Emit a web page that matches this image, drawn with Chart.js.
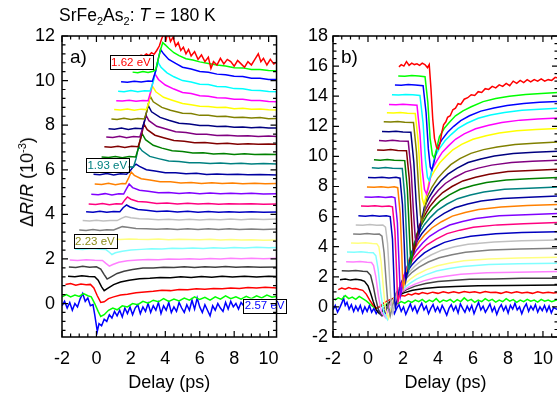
<!DOCTYPE html>
<html>
<head>
<meta charset="utf-8">
<script src="https://cdn.jsdelivr.net/npm/chart.js@4.4.1/dist/chart.umd.min.js"></script>
<style>
  html, body { margin: 0; padding: 0; background: #fff; overflow: hidden; }
  #wrap { position: relative; width: 557px; height: 397px; overflow: hidden; }
  #wrap canvas { position: absolute; top: 0; }
  #cA { left: 0; }
  #cB { left: 290px; }
  .txt { position: absolute; font-family: 'Liberation Sans', Arial, sans-serif; color: #000; white-space: nowrap; line-height: 1; z-index: 5; }
  #title { left: 59px; top: 7px; font-size: 17.5px; }
  #title sub { font-size: 11px; vertical-align: -4px; line-height: 0; }
  #ytitle { left: 27px; top: 182px; font-size: 18px; transform: translate(-50%, -50%) rotate(-90deg); }
  #ytitle sup { font-size: 11px; vertical-align: 7px; line-height: 0; }
</style>
</head>
<body>
<div id="wrap">
  <canvas id="cA" width="290" height="397"></canvas>
  <canvas id="cB" width="275" height="397"></canvas>
  <div class="txt" id="title">SrFe<sub>2</sub>As<sub>2</sub>: <i>T</i> = 180 K</div>
  <div class="txt" id="ytitle">&Delta;<i>R</i>/<i>R</i> (10<sup>-3</sup>)</div>
</div>
<script>
// tick labels
const xTickValues = [-2, 0, 2, 4, 6, 8, 10];
const aYTickValues = [0, 2, 4, 6, 8, 10, 12];
const bYTickValues = [-2, 0, 2, 4, 6, 8, 10, 12, 14, 16, 18];

// one colour per probe energy, top trace (1.62 eV) first
const curveColors = ['#FF0000', '#00FF00', '#0000FF', '#00FFFF', '#FF00FF', '#FFFF00', '#808000', '#000080',
  '#800080', '#800000', '#008000', '#008080', '#0000A0', '#FF8000', '#8000FF', '#FF0080', '#0000C0',
  '#C0C0C0', '#808080', '#FFFF80', '#80FFFF', '#FF80FF', '#404040', '#000000', '#FF0000', '#00FF00', '#0000FF'];

const energyLabels = ['1.62 eV', '1.93 eV', '2.23 eV', '2.57 eV'];
const energyLabelColors = ['#FF0000', '#008080', '#8C8C1A', '#0000FF'];

// ---- panel a) traces [delay ps, dR/R 1e-3] ----
const a01 = [[2.55,11.15],[2.75,11.1],[2.9,11.2],[3.05,11.12],[3.2,11.25],[3.35,11.18],[3.5,11.35],[3.65,11.55],[3.8,11.9],[3.95,12.15],[4.05,11.85],[4.15,12.2],[4.3,11.75],[4.45,11.95],[4.6,11.55],[4.75,11.7],[4.9,11.35],[5.05,11.5],[5.2,11.2],[5.35,11.4],[5.5,11.1],[5.7,11.3],[5.9,10.95],[6.1,11.15],[6.3,10.85],[6.5,11.05],[6.65,10.55],[6.8,10.85],[7.0,10.7],[7.2,11.0],[7.4,10.75],[7.6,10.95],[7.8,10.85],[8.0,10.65],[8.2,10.9],[8.4,10.75],[8.6,10.6],[8.8,10.85],[9.0,10.7],[9.2,10.95],[9.4,11.2],[9.55,10.85],[9.7,11.0],[9.9,10.7],[10.1,10.95],[10.3,10.75],[10.5,10.85]];
const a02 = [[2.1,10.38],[2.4,10.35],[2.7,10.41],[3.0,10.36],[3.3,10.42],[3.45,10.5],[3.6,11.0],[3.75,11.45],[3.85,11.7],[4.0,11.6],[4.2,11.45],[4.5,11.25],[4.8,11.12],[5.2,10.98],[5.6,10.92],[6.0,10.84],[6.5,10.77],[7.0,10.7],[7.5,10.65],[8.0,10.58],[8.5,10.57],[9.0,10.5],[9.5,10.5],[10.0,10.45],[10.5,10.44]];
const a03 = [[1.43,9.95],[1.8,9.93],[2.2,9.97],[2.6,9.94],[3.0,9.98],[3.25,9.97],[3.45,10.45],[3.6,11.0],[3.72,11.4],[3.9,11.2],[4.2,10.95],[4.6,10.77],[5.0,10.6],[5.5,10.52],[6.0,10.41],[6.5,10.37],[7.0,10.29],[7.5,10.26],[8.0,10.19],[8.5,10.18],[9.0,10.11],[9.5,10.11],[10.0,10.05],[10.5,10.05]];
const a04 = [[1.26,9.52],[1.6,9.5],[2.0,9.55],[2.4,9.5],[2.8,9.54],[3.12,9.53],[3.3,9.95],[3.45,10.5],[3.55,10.85],[3.75,10.6],[4.1,10.35],[4.5,10.17],[5.0,10.0],[5.5,9.94],[6.0,9.84],[6.5,9.82],[7.0,9.74],[7.5,9.72],[8.0,9.64],[8.5,9.63],[9.0,9.57],[9.5,9.56],[10.0,9.51],[10.5,9.5]];
const a05 = [[1.15,9.1],[1.5,9.08],[1.9,9.12],[2.3,9.07],[2.7,9.11],[3.0,9.1],[3.15,9.5],[3.3,10.0],[3.4,10.3],[3.6,10.05],[4.0,9.8],[4.5,9.62],[5.0,9.47],[5.5,9.42],[6.0,9.32],[6.5,9.3],[7.0,9.23],[7.5,9.22],[8.0,9.16],[8.5,9.16],[9.0,9.11],[9.5,9.11],[10.0,9.06],[10.5,9.05]];
const a06 = [[1.03,8.7],[1.4,8.68],[1.8,8.73],[2.2,8.67],[2.6,8.72],[2.9,8.7],[3.05,9.05],[3.15,9.45],[3.25,9.75],[3.45,9.5],[3.9,9.25],[4.4,9.12],[5.0,8.97],[5.5,8.92],[6.0,8.85],[6.5,8.84],[7.0,8.79],[7.5,8.8],[8.0,8.74],[8.5,8.76],[9.0,8.71],[9.5,8.73],[10.0,8.69],[10.5,8.68]];
const a07 = [[0.87,8.28],[1.2,8.26],[1.6,8.31],[2.0,8.25],[2.4,8.3],[2.78,8.28],[2.92,8.6],[3.02,8.95],[3.12,9.3],[3.3,9.05],[3.8,8.8],[4.3,8.67],[5.0,8.54],[5.5,8.52],[6.0,8.44],[6.5,8.44],[7.0,8.39],[7.5,8.4],[8.0,8.35],[8.5,8.36],[9.0,8.32],[9.5,8.34],[10.0,8.29],[10.5,8.3]];
const a08 = [[0.7,7.84],[1.05,7.82],[1.45,7.87],[1.85,7.81],[2.25,7.86],[2.65,7.84],[2.8,8.2],[2.9,8.55],[3.0,8.9],[3.2,8.6],[3.7,8.35],[4.2,8.22],[4.8,8.09],[5.4,8.05],[6.0,7.99],[6.5,7.99],[7.0,7.94],[7.5,7.95],[8.0,7.91],[8.5,7.92],[9.0,7.89],[9.5,7.91],[10.0,7.87],[10.5,7.87]];
const a09 = [[0.57,7.47],[0.95,7.45],[1.35,7.5],[1.75,7.44],[2.15,7.49],[2.52,7.47],[2.68,7.85],[2.78,8.15],[2.87,8.45],[3.05,8.2],[3.5,7.95],[4.0,7.84],[4.6,7.71],[5.2,7.67],[5.8,7.59],[6.4,7.59],[7.0,7.54],[7.6,7.55],[8.2,7.51],[8.8,7.53],[9.4,7.49],[10.0,7.51],[10.5,7.49]];
const a10 = [[0.46,7.03],[0.85,7.01],[1.25,7.06],[1.65,7.0],[2.05,7.05],[2.42,7.03],[2.57,7.4],[2.67,7.75],[2.76,8.05],[2.95,7.8],[3.4,7.55],[3.9,7.44],[4.5,7.31],[5.1,7.28],[5.7,7.21],[6.3,7.22],[7.0,7.17],[7.6,7.19],[8.2,7.15],[8.8,7.17],[9.4,7.14],[10.0,7.16],[10.5,7.14]];
const a11 = [[0.3,6.57],[0.7,6.55],[1.1,6.6],[1.5,6.54],[1.9,6.59],[2.28,6.57],[2.43,6.95],[2.53,7.3],[2.63,7.65],[2.85,7.35],[3.3,7.1],[3.8,6.97],[4.4,6.85],[5.0,6.82],[5.6,6.75],[6.2,6.76],[6.8,6.71],[7.4,6.73],[8.0,6.69],[8.6,6.72],[9.2,6.68],[9.8,6.7],[10.5,6.68]];
const a12 = [[0.2,6.12],[0.6,6.1],[1.0,6.15],[1.4,6.09],[1.8,6.14],[2.15,6.12],[2.3,6.5],[2.38,6.8],[2.46,7.05],[2.65,6.85],[3.1,6.6],[3.6,6.5],[4.2,6.39],[4.8,6.37],[5.4,6.31],[6.0,6.32],[6.6,6.28],[7.2,6.3],[7.8,6.27],[8.4,6.29],[9.0,6.26],[9.7,6.28],[10.5,6.26]];
const a13 = [[-0.17,5.8],[0.2,5.78],[0.6,5.83],[1.0,5.77],[1.4,5.82],[1.75,5.8],[1.95,5.95],[2.15,6.15],[2.3,6.25],[2.5,6.15],[2.9,6.0],[3.4,5.94],[4.0,5.87],[4.6,5.87],[5.2,5.82],[5.8,5.84],[6.4,5.79],[7.0,5.81],[7.6,5.79],[8.2,5.8],[8.8,5.78],[9.5,5.79],[10.5,5.77]];
const a14 = [[-0.1,5.36],[0.3,5.34],[0.7,5.39],[1.1,5.33],[1.5,5.38],[1.7,5.37],[1.85,5.6],[2.02,5.9],[2.2,5.75],[2.6,5.6],[3.1,5.54],[3.7,5.46],[4.3,5.46],[4.9,5.41],[5.5,5.43],[6.1,5.39],[6.7,5.42],[7.3,5.38],[7.9,5.41],[8.5,5.37],[9.2,5.4],[9.8,5.37],[10.5,5.38]];
const a15 = [[-0.3,4.9],[0.1,4.88],[0.5,4.93],[0.9,4.87],[1.3,4.92],[1.58,4.91],[1.75,5.15],[1.9,5.36],[2.1,5.2],[2.5,5.08],[3.0,5.04],[3.6,4.97],[4.2,4.98],[4.8,4.94],[5.4,4.97],[6.0,4.93],[6.6,4.96],[7.2,4.92],[7.8,4.95],[8.4,4.92],[9.0,4.95],[9.7,4.91],[10.5,4.93]];
const a16 = [[-0.45,4.46],[-0.05,4.44],[0.35,4.49],[0.75,4.43],[1.15,4.48],[1.48,4.47],[1.65,4.65],[1.8,4.78],[2.0,4.68],[2.4,4.58],[2.9,4.55],[3.5,4.49],[4.1,4.51],[4.7,4.47],[5.3,4.5],[5.9,4.46],[6.5,4.49],[7.1,4.45],[7.7,4.48],[8.3,4.46],[9.0,4.48],[9.7,4.45],[10.5,4.47]];
const a17 = [[-0.6,4.12],[-0.2,4.1],[0.2,4.14],[0.6,4.09],[1.0,4.13],[1.36,4.12],[1.55,4.3],[1.75,4.42],[1.95,4.33],[2.4,4.22],[2.9,4.19],[3.5,4.13],[4.1,4.15],[4.7,4.11],[5.3,4.14],[5.9,4.1],[6.5,4.13],[7.1,4.1],[7.7,4.12],[8.3,4.09],[9.0,4.12],[9.7,4.09],[10.5,4.11]];
const a18 = [[-0.8,3.72],[-0.4,3.7],[0.0,3.74],[0.4,3.7],[0.8,3.73],[1.2,3.72],[1.45,3.82],[1.7,3.9],[2.0,3.85],[2.5,3.8],[3.0,3.79],[3.6,3.76],[4.2,3.78],[4.8,3.75],[5.4,3.78],[6.0,3.75],[6.6,3.78],[7.2,3.76],[7.8,3.79],[8.4,3.76],[9.0,3.79],[9.7,3.77],[10.5,3.79]];
const a19 = [[-1.0,3.3],[-0.6,3.28],[-0.2,3.32],[0.2,3.28],[0.6,3.31],[1.0,3.3],[1.25,3.38],[1.5,3.45],[1.8,3.42],[2.3,3.37],[2.9,3.36],[3.5,3.33],[4.1,3.35],[4.7,3.32],[5.3,3.35],[5.9,3.32],[6.5,3.35],[7.1,3.32],[7.7,3.35],[8.3,3.32],[9.0,3.34],[9.7,3.32],[10.5,3.34]];
const a20 = [[-1.1,2.88],[-0.6,2.86],[-0.1,2.9],[0.4,2.86],[0.9,2.89],[1.4,2.87],[1.9,2.9],[2.4,2.88],[3.0,2.87],[3.6,2.89],[4.2,2.86],[4.8,2.88],[5.4,2.87],[6.0,2.86],[6.6,2.88],[7.2,2.85],[7.8,2.87],[8.4,2.85],[9.0,2.86],[9.7,2.84],[10.5,2.85]];
const a21 = [[-1.25,2.45],[-0.8,2.43],[-0.3,2.47],[0.2,2.44],[0.55,2.42],[0.75,2.3],[0.9,2.2],[1.1,2.28],[1.5,2.35],[2.0,2.4],[2.6,2.43],[3.2,2.46],[3.8,2.45],[4.4,2.48],[5.0,2.47],[5.6,2.49],[6.2,2.47],[6.8,2.5],[7.4,2.48],[8.0,2.51],[8.6,2.49],[9.3,2.52],[10.0,2.5],[10.5,2.52]];
const a22 = [[-1.55,1.95],[-1.1,1.93],[-0.6,1.97],[-0.1,1.94],[0.35,1.93],[0.55,1.8],[0.75,1.68],[0.95,1.75],[1.3,1.85],[1.8,1.92],[2.4,1.95],[3.0,1.98],[3.6,1.97],[4.2,2.0],[4.8,1.99],[5.4,2.01],[6.0,1.99],[6.6,2.02],[7.2,2.0],[7.8,2.03],[8.4,2.01],[9.0,2.03],[9.7,2.01],[10.5,2.03]];
const a23 = [[-1.6,1.64],[-1.2,1.62],[-0.8,1.67],[-0.4,1.63],[0.0,1.65],[0.25,1.55],[0.45,1.3],[0.62,1.1],[0.85,1.2],[1.2,1.35],[1.6,1.45],[2.1,1.53],[2.7,1.59],[3.3,1.6],[3.9,1.63],[4.5,1.62],[5.1,1.65],[5.7,1.62],[6.3,1.65],[6.9,1.63],[7.5,1.66],[8.1,1.63],[8.8,1.65],[9.5,1.63],[10.5,1.64]];
const a24 = [[-1.65,1.22],[-1.25,1.2],[-0.85,1.25],[-0.45,1.21],[-0.1,1.2],[0.1,1.05],[0.3,0.75],[0.45,0.58],[0.65,0.68],[1.0,0.85],[1.4,0.97],[1.9,1.05],[2.5,1.11],[3.1,1.13],[3.7,1.17],[4.3,1.16],[4.9,1.2],[5.5,1.17],[6.1,1.21],[6.7,1.18],[7.3,1.22],[7.9,1.19],[8.6,1.22],[9.3,1.19],[10.0,1.23],[10.5,1.21]];
const a25 = [[-1.8,0.85],[-1.5,0.9],[-1.2,0.82],[-0.9,0.88],[-0.6,0.84],[-0.35,0.86],[-0.15,0.7],[0.05,0.35],[0.25,0.05],[0.45,0.08],[0.7,0.22],[1.0,0.3],[1.4,0.38],[1.8,0.42],[2.3,0.48],[2.8,0.52],[3.3,0.55],[3.8,0.6],[4.3,0.58],[4.8,0.63],[5.3,0.62],[5.8,0.66],[6.3,0.64],[6.8,0.68],[7.3,0.66],[7.8,0.7],[8.3,0.68],[8.8,0.72],[9.3,0.7],[9.8,0.73],[10.5,0.7]];
const a26 = [[-2.0,0.3],[-1.75,0.4],[-1.5,0.3],[-1.25,0.38],[-1.0,0.32],[-0.75,0.45],[-0.5,0.35],[-0.3,0.3],[-0.1,0.0],[0.1,-0.35],[0.25,-0.58],[0.45,-0.5],[0.7,-0.3],[0.95,-0.2],[1.2,-0.28],[1.5,-0.1],[1.8,-0.15],[2.1,0.0],[2.4,-0.05],[2.7,0.1],[3.0,0.02],[3.3,0.15],[3.6,0.08],[3.9,0.22],[4.2,0.1],[4.5,0.2],[4.8,0.12],[5.1,0.25],[5.4,0.15],[5.7,0.3],[6.0,0.18],[6.3,0.28],[6.6,0.15],[6.9,0.3],[7.2,0.2],[7.5,0.35],[7.8,0.22],[8.1,0.3],[8.4,0.2],[8.7,0.32],[9.0,0.22],[9.3,0.35],[9.6,0.25],[9.9,0.38],[10.2,0.28],[10.5,0.33]];
const a27 = [[-2.0,-0.1],[-1.85,0.1],[-1.7,-0.2],[-1.55,0.05],[-1.4,-0.3],[-1.25,0.0],[-1.1,-0.15],[-0.95,0.2],[-0.8,0.45],[-0.65,0.1],[-0.5,0.25],[-0.35,-0.1],[-0.2,-0.05],[-0.1,-0.5],[0.05,-1.25],[0.15,-0.9],[0.3,-1.0],[0.45,-0.7],[0.6,-0.8],[0.75,-0.5],[0.9,-0.65],[1.05,-0.35],[1.2,-0.55],[1.35,-0.3],[1.5,-0.6],[1.65,-0.2],[1.8,-0.45],[1.95,-0.15],[2.1,-0.5],[2.25,-0.2],[2.4,-0.05],[2.55,-0.45],[2.7,-0.15],[2.85,-0.35],[3.0,0.0],[3.15,-0.4],[3.3,-0.1],[3.45,-0.3],[3.6,0.05],[3.75,-0.45],[3.9,-0.1],[4.05,-0.3],[4.2,0.05],[4.35,-0.4],[4.5,-0.15],[4.65,-0.35],[4.8,0.05],[4.95,-0.2],[5.1,-0.4],[5.25,-0.05],[5.4,-0.3],[5.55,0.15],[5.7,-0.25],[5.85,0.25],[6.0,-0.15],[6.15,-0.4],[6.3,-0.05],[6.45,-0.3],[6.6,-0.55],[6.75,-0.1],[6.9,-0.3],[7.05,0.0],[7.2,-0.2],[7.35,-0.35],[7.5,0.05],[7.65,-0.25],[7.8,0.1],[7.95,-0.15],[8.1,0.0],[8.25,-0.25],[8.4,0.05],[8.55,-0.1],[8.7,-0.3],[8.85,0.05],[9.0,-0.15],[9.15,0.1],[9.3,-0.1],[9.45,0.0],[9.6,-0.2],[9.75,0.05],[9.9,-0.1],[10.05,0.1],[10.2,-0.05],[10.35,0.05],[10.5,0.0]];

// ---- panel b) traces ----
const b01 = [[1.77,15.95],[1.9,16.1],[2.05,16.0],[2.2,16.3],[2.35,16.05],[2.5,16.2],[2.65,16.1],[2.8,16.15],[2.95,16.05],[3.1,16.2],[3.25,16.1],[3.4,15.9],[3.5,16.1],[3.6,14.5],[3.7,12.5],[3.8,11.2],[3.92,10.6],[4.02,10.5],[4.12,10.9],[4.22,11.6],[4.32,12.1],[4.45,12.3],[4.55,12.6],[4.7,12.7],[4.85,13.1],[5.0,13.2],[5.15,13.5],[5.3,13.45],[5.5,13.8],[5.7,13.9],[5.9,14.1],[6.1,14.05],[6.3,14.3],[6.5,14.25],[6.7,14.5],[6.9,14.45],[7.1,14.65],[7.3,14.55],[7.5,14.75],[7.7,14.65],[7.9,14.85],[8.1,14.7],[8.3,15.0],[8.5,14.85],[8.7,15.05],[8.9,14.9],[9.1,15.1],[9.3,14.95],[9.5,15.1],[9.7,15.0],[9.9,15.15],[10.1,15.0],[10.3,15.1],[10.5,15.05],[10.7,15.25],[10.86,15.2]];
const b02 = [[1.73,15.35],[2.1,15.33],[2.5,15.37],[2.9,15.34],[3.26,15.3],[3.42,13.6],[3.55,11.2],[3.68,10.1],[3.78,9.9],[3.9,10.4],[4.08,11.3],[4.35,11.85],[4.68,12.3],[5.0,12.7],[5.43,13.03],[5.9,13.3],[6.58,13.64],[7.3,13.85],[8.08,13.99],[9.0,14.12],[9.9,14.18],[10.86,14.25]];
const b03 = [[1.54,14.75],[1.9,14.73],[2.3,14.77],[2.7,14.74],[3.15,14.7],[3.32,12.9],[3.45,10.5],[3.56,9.3],[3.65,9.1],[3.77,9.6],[3.95,10.56],[4.22,11.1],[4.55,11.6],[4.9,12.0],[5.3,12.38],[5.8,12.7],[6.45,13.01],[7.2,13.22],[7.95,13.38],[8.9,13.52],[9.8,13.59],[10.86,13.65]];
const b04 = [[1.37,14.1],[1.75,14.08],[2.15,14.12],[2.55,14.09],[2.97,14.05],[3.15,12.2],[3.28,9.8],[3.4,8.6],[3.5,8.4],[3.62,8.9],[3.8,9.94],[4.07,10.5],[4.4,11.04],[4.75,11.45],[5.15,11.86],[5.65,12.2],[6.3,12.53],[7.0,12.75],[7.8,12.91],[8.8,13.06],[9.8,13.13],[10.86,13.2]];
const b05 = [[1.2,13.45],[1.6,13.43],[2.0,13.47],[2.4,13.44],[2.8,13.4],[2.97,11.5],[3.1,9.1],[3.23,7.8],[3.35,7.5],[3.47,8.0],[3.65,9.12],[3.93,9.7],[4.25,10.28],[4.6,10.7],[5.0,11.14],[5.5,11.5],[6.15,11.84],[6.9,12.07],[7.65,12.25],[8.7,12.41],[9.7,12.49],[10.86,12.55]];
const b06 = [[1.08,12.9],[1.45,12.88],[1.85,12.92],[2.25,12.87],[2.7,12.85],[2.87,11.0],[3.0,8.6],[3.1,7.2],[3.2,6.8],[3.32,7.3],[3.5,8.42],[3.78,9.0],[4.1,9.58],[4.45,10.0],[4.85,10.44],[5.35,10.8],[6.0,11.14],[6.75,11.37],[7.5,11.55],[8.5,11.71],[9.6,11.79],[10.86,11.85]];
const b07 = [[0.9,12.3],[1.3,12.28],[1.7,12.32],[2.1,12.27],[2.6,12.25],[2.77,10.3],[2.9,7.8],[3.0,6.1],[3.08,5.6],[3.2,6.2],[3.38,7.31],[3.65,7.95],[3.98,8.54],[4.33,9.0],[4.73,9.45],[5.25,9.85],[5.88,10.2],[6.6,10.45],[7.38,10.63],[8.4,10.79],[9.5,10.87],[10.86,10.95]];
const b08 = [[0.8,11.65],[1.2,11.63],[1.6,11.67],[2.0,11.62],[2.45,11.6],[2.62,9.6],[2.75,7.0],[2.85,5.3],[2.92,4.9],[3.05,5.6],[3.22,6.64],[3.5,7.3],[3.82,7.9],[4.17,8.38],[4.57,8.82],[5.1,9.22],[5.72,9.59],[6.45,9.83],[7.22,10.02],[8.3,10.19],[9.5,10.27],[10.86,10.35]];
const b09 = [[0.63,11.05],[1.0,11.03],[1.4,11.07],[1.8,11.02],[2.3,11.0],[2.47,9.0],[2.6,6.3],[2.7,4.6],[2.77,4.2],[2.9,4.9],[3.07,5.98],[3.35,6.6],[3.67,7.25],[4.02,7.75],[4.42,8.2],[4.95,8.6],[5.57,8.97],[6.3,9.22],[7.07,9.42],[8.2,9.59],[9.4,9.67],[10.86,9.75]];
const b10 = [[0.52,10.43],[0.9,10.41],[1.3,10.45],[1.7,10.4],[2.2,10.38],[2.36,8.5],[2.48,5.9],[2.56,4.1],[2.62,3.6],[2.75,4.3],[2.92,5.38],[3.2,6.0],[3.52,6.65],[3.87,7.15],[4.27,7.6],[4.8,8.0],[5.42,8.37],[6.15,8.62],[6.92,8.82],[8.0,8.99],[9.3,9.07],[10.86,9.15]];
const b11 = [[0.34,9.77],[0.7,9.75],[1.1,9.79],[1.5,9.74],[2.1,9.72],[2.25,7.8],[2.35,5.3],[2.42,3.5],[2.47,3.0],[2.6,3.7],[2.77,4.79],[3.05,5.45],[3.37,6.08],[3.72,6.58],[4.12,7.03],[4.65,7.45],[5.27,7.82],[6.0,8.07],[6.77,8.26],[7.9,8.43],[9.2,8.52],[10.86,8.6]];
const b12 = [[0.22,9.24],[0.6,9.22],[1.0,9.26],[1.4,9.21],[1.96,9.19],[2.1,7.4],[2.2,4.8],[2.27,2.9],[2.32,2.4],[2.45,3.1],[2.62,4.18],[2.9,4.85],[3.22,5.46],[3.57,5.95],[3.97,6.41],[4.5,6.82],[5.12,7.19],[5.85,7.44],[6.62,7.64],[7.8,7.81],[9.2,7.89],[10.86,7.97]];
const b13 = [[0.0,8.6],[0.4,8.58],[0.8,8.62],[1.2,8.57],[1.6,8.61],[1.83,8.55],[1.97,6.8],[2.07,4.2],[2.13,2.3],[2.17,1.8],[2.3,2.5],[2.47,3.58],[2.75,4.25],[3.07,4.86],[3.42,5.35],[3.82,5.81],[4.35,6.22],[4.97,6.59],[5.7,6.84],[6.47,7.04],[7.7,7.21],[9.2,7.29],[10.86,7.37]];
const b14 = [[-0.06,7.97],[0.35,7.95],[0.75,7.99],[1.15,7.94],[1.5,7.98],[1.7,7.92],[1.84,6.2],[1.93,3.6],[1.98,1.8],[2.02,1.3],[2.15,2.0],[2.32,3.06],[2.6,3.7],[2.92,4.33],[3.27,4.82],[3.67,5.26],[4.2,5.66],[4.82,6.03],[5.55,6.27],[6.32,6.47],[7.6,6.64],[9.1,6.73],[10.86,6.8]];
const b15 = [[-0.2,7.3],[0.2,7.28],[0.6,7.32],[1.0,7.27],[1.35,7.31],[1.54,7.25],[1.68,5.6],[1.77,3.0],[1.83,1.3],[1.87,0.8],[2.0,1.5],[2.17,2.53],[2.45,3.15],[2.77,3.77],[3.12,4.25],[3.52,4.69],[4.05,5.08],[4.67,5.44],[5.4,5.68],[6.17,5.88],[7.5,6.05],[9.0,6.13],[10.86,6.2]];
const b16 = [[-0.4,6.7],[0.0,6.68],[0.4,6.72],[0.8,6.67],[1.2,6.71],[1.4,6.65],[1.54,5.0],[1.63,2.5],[1.68,0.85],[1.72,0.35],[1.85,1.0],[2.02,2.03],[2.3,2.65],[2.62,3.24],[2.97,3.7],[3.37,4.13],[3.9,4.5],[4.52,4.87],[5.25,5.1],[6.02,5.29],[7.4,5.45],[8.9,5.53],[10.86,5.6]];
const b17 = [[-0.55,6.05],[-0.15,6.03],[0.25,6.07],[0.65,6.02],[1.05,6.06],[1.27,6.0],[1.4,4.5],[1.48,2.0],[1.53,0.4],[1.57,-0.05],[1.7,0.65],[1.87,1.57],[2.15,2.18],[2.47,2.73],[2.82,3.18],[3.22,3.59],[3.75,3.95],[4.37,4.29],[5.1,4.52],[5.87,4.7],[7.3,4.86],[8.8,4.94],[10.86,5.0]];
const b18 = [[-0.7,5.45],[-0.3,5.43],[0.1,5.47],[0.5,5.42],[0.85,5.44],[1.0,5.3],[1.12,4.2],[1.22,2.2],[1.32,0.3],[1.42,-0.4],[1.55,0.3],[1.72,1.15],[2.0,1.72],[2.32,2.27],[2.67,2.7],[3.07,3.09],[3.6,3.45],[4.22,3.77],[4.95,3.99],[5.72,4.16],[7.2,4.31],[8.8,4.39],[10.86,4.45]];
const b19 = [[-0.85,4.85],[-0.45,4.83],[-0.05,4.87],[0.35,4.82],[0.65,4.84],[0.8,4.7],[0.92,3.6],[1.03,1.8],[1.15,0.0],[1.27,-0.6],[1.4,0.05],[1.57,0.84],[1.85,1.4],[2.17,1.88],[2.52,2.3],[2.92,2.64],[3.45,2.98],[4.07,3.27],[4.8,3.47],[5.57,3.63],[7.0,3.78],[8.7,3.85],[10.86,3.9]];
const b20 = [[-0.97,4.25],[-0.55,4.23],[-0.15,4.27],[0.25,4.22],[0.5,4.2],[0.62,4.0],[0.75,3.0],[0.87,1.4],[1.0,-0.2],[1.17,-0.75],[1.3,-0.2],[1.47,0.55],[1.75,1.05],[2.07,1.48],[2.42,1.85],[2.82,2.17],[3.35,2.48],[3.97,2.73],[4.7,2.92],[5.47,3.06],[6.9,3.19],[8.6,3.25],[10.86,3.3]];
const b21 = [[-1.2,3.65],[-0.8,3.63],[-0.4,3.67],[0.0,3.62],[0.3,3.6],[0.45,3.4],[0.58,2.5],[0.72,1.0],[0.9,-0.4],[1.12,-0.85],[1.25,-0.4],[1.42,0.35],[1.7,0.82],[2.02,1.21],[2.37,1.55],[2.77,1.85],[3.3,2.13],[3.92,2.38],[4.65,2.55],[5.42,2.68],[6.9,2.81],[8.6,2.86],[10.86,2.9]];
const b22 = [[-1.25,3.0],[-0.85,2.98],[-0.45,3.02],[-0.05,2.97],[0.2,2.95],[0.32,2.75],[0.45,2.0],[0.6,0.7],[0.78,-0.4],[1.0,-0.7],[1.13,-0.3],[1.3,0.28],[1.58,0.65],[1.9,0.98],[2.25,1.26],[2.65,1.5],[3.18,1.73],[3.8,1.92],[4.55,2.06],[5.3,2.17],[6.8,2.27],[8.5,2.31],[10.86,2.35]];
const b23 = [[-1.5,2.4],[-1.1,2.38],[-0.7,2.42],[-0.3,2.37],[-0.05,2.35],[0.15,2.1],[0.3,1.4],[0.45,0.5],[0.62,-0.3],[0.8,-0.6],[0.95,-0.35],[1.15,0.05],[1.45,0.5],[1.8,0.87],[2.2,1.15],[2.7,1.38],[3.3,1.55],[4.0,1.68],[4.8,1.76],[5.8,1.83],[7.2,1.86],[8.8,1.9],[10.86,1.9]];
const b24 = [[-1.6,1.8],[-1.3,1.85],[-1.0,1.78],[-0.7,1.83],[-0.4,1.79],[-0.2,1.7],[0.0,1.4],[0.15,0.9],[0.3,0.35],[0.47,-0.2],[0.65,-0.45],[0.8,-0.3],[1.0,0.05],[1.3,0.4],[1.65,0.7],[2.05,0.93],[2.55,1.1],[3.2,1.22],[4.0,1.31],[5.0,1.35],[6.3,1.41],[8.0,1.42],[10.86,1.45]];
const b25 = [[-1.7,1.15],[-1.5,1.25],[-1.3,1.18],[-1.1,1.28],[-0.9,1.2],[-0.7,1.22],[-0.5,1.15],[-0.3,1.1],[-0.1,0.85],[0.1,0.45],[0.3,0.1],[0.5,-0.1],[0.7,0.05],[0.9,0.25],[1.1,0.4],[1.3,0.5],[1.5,0.6],[1.7,0.65],[1.9,0.75],[2.1,0.72],[2.3,0.85],[2.5,0.8],[2.7,0.9],[2.9,0.85],[3.1,0.95],[3.4,0.88],[3.7,0.98],[4.0,0.9],[4.3,1.0],[4.6,0.92],[4.9,1.0],[5.2,0.93],[5.5,1.02],[5.8,0.95],[6.1,1.0],[6.4,0.92],[6.7,1.02],[7.0,0.95],[7.3,0.98],[7.6,0.9],[7.9,1.0],[8.2,0.93],[8.5,1.0],[8.8,0.92],[9.1,0.98],[9.4,0.9],[9.7,1.0],[10.0,0.93],[10.3,0.98],[10.6,0.92],[10.86,0.96]];
const b26 = [[-1.9,0.45],[-1.7,0.6],[-1.5,0.5],[-1.3,0.75],[-1.1,0.55],[-0.9,0.65],[-0.7,0.5],[-0.5,0.7],[-0.3,0.55],[-0.1,0.4],[0.1,0.2],[0.3,0.0],[0.5,-0.1],[0.7,0.0],[0.9,0.1],[1.1,0.2],[1.3,0.15],[1.5,0.3],[1.7,0.22],[1.9,0.35],[2.1,0.25],[2.3,0.4],[2.5,0.3],[2.7,0.45],[2.9,0.35],[3.1,0.5],[3.3,0.3],[3.5,0.45],[3.7,0.35],[3.9,0.55],[4.1,0.3],[4.3,0.45],[4.5,0.38],[4.7,0.5],[4.9,0.3],[5.1,0.48],[5.3,0.35],[5.5,0.6],[5.7,0.4],[5.9,0.5],[6.1,0.3],[6.3,0.45],[6.5,0.35],[6.7,0.55],[6.9,0.4],[7.1,0.5],[7.3,0.32],[7.5,0.45],[7.7,0.35],[7.9,0.55],[8.1,0.38],[8.3,0.48],[8.5,0.3],[8.7,0.45],[8.9,0.35],[9.1,0.5],[9.3,0.38],[9.5,0.45],[9.7,0.32],[9.9,0.5],[10.1,0.38],[10.3,0.45],[10.5,0.35],[10.86,0.5]];
const b27 = [[-2.0,-0.2],[-1.87,0.1],[-1.74,-0.35],[-1.61,-0.05],[-1.48,0.3],[-1.4,0.6],[-1.3,0.1],[-1.2,0.3],[-1.08,-0.15],[-0.95,0.15],[-0.82,-0.3],[-0.7,0.05],[-0.57,-0.25],[-0.44,0.1],[-0.31,-0.4],[-0.18,0.0],[-0.05,-0.3],[0.08,0.1],[0.21,-0.35],[0.34,-0.1],[0.47,-0.45],[0.6,-0.2],[0.73,-0.5],[0.86,-0.1],[0.99,-0.4],[1.12,0.1],[1.25,-0.3],[1.38,0.05],[1.51,-0.45],[1.64,-0.1],[1.77,0.15],[1.9,-0.3],[2.03,0.0],[2.16,-0.5],[2.29,-0.15],[2.42,0.2],[2.55,-0.25],[2.68,0.05],[2.81,-0.4],[2.94,-0.05],[3.07,0.25],[3.2,-0.2],[3.33,0.05],[3.46,-0.45],[3.59,-0.1],[3.72,0.15],[3.85,-0.3],[3.98,0.0],[4.11,-0.35],[4.24,0.1],[4.37,-0.2],[4.5,-0.55],[4.63,-0.1],[4.76,0.15],[4.89,-0.25],[5.02,0.05],[5.15,-0.4],[5.28,0.2],[5.41,-0.1],[5.54,-0.35],[5.67,0.05],[5.8,-0.25],[5.93,0.1],[6.06,-0.45],[6.19,-0.05],[6.32,0.3],[6.45,-0.2],[6.58,0.05],[6.71,-0.35],[6.84,-0.1],[6.97,0.2],[7.1,-0.3],[7.23,0.0],[7.36,-0.5],[7.49,-0.1],[7.62,0.15],[7.75,-0.25],[7.88,0.05],[8.01,-0.4],[8.14,0.1],[8.27,-0.15],[8.4,0.25],[8.53,-0.2],[8.66,0.0],[8.79,-0.45],[8.92,-0.05],[9.05,0.2],[9.18,-0.3],[9.31,0.05],[9.44,-0.2],[9.57,0.15],[9.7,-0.35],[9.83,0.0],[9.96,-0.25],[10.09,0.1],[10.22,-0.3],[10.35,0.05],[10.48,-0.4],[10.61,-0.05],[10.86,-0.2]];

const aCurves = [a01, a02, a03, a04, a05, a06, a07, a08, a09, a10, a11, a12, a13, a14,
  a15, a16, a17, a18, a19, a20, a21, a22, a23, a24, a25, a26, a27];
const bCurves = [b01, b02, b03, b04, b05, b06, b07, b08, b09, b10, b11, b12, b13, b14,
  b15, b16, b17, b18, b19, b20, b21, b22, b23, b24, b25, b26, b27];

const FONT = "'Liberation Sans', Arial, sans-serif";
const tickFont = { family: FONT, size: 18 };

function toDatasets(curves) {
  return curves.map((pts, i) => ({
    data: pts.map(p => ({ x: p[0], y: p[1] })),
    borderColor: curveColors[i],
    borderWidth: 1.5,
    pointRadius: 0,
    tension: 0,
    fill: false
  }));
}

// Origin-style frame: box plus inward major/minor ticks on all four sides
function framePlugin(letter, yMinorStep, boxes) {
  return {
    id: 'frame',
    afterDatasetsDraw(chart) {
      const { ctx, chartArea: a, scales } = chart;
      ctx.save();
      ctx.fillStyle = '#000';
      ctx.font = '19px ' + FONT;
      ctx.textBaseline = 'alphabetic';
      ctx.fillText(letter, a.left + 8, a.top + 27);
      if (boxes) {
        ctx.font = '11.5px ' + FONT;
        ctx.textAlign = 'center';
        ctx.textBaseline = 'middle';
        boxes.spots.forEach((s, i) => {
          const cx = scales.x.getPixelForValue(s[0]);
          const cy = scales.y.getPixelForValue(s[1]);
          const w = ctx.measureText(energyLabels[i]).width + 3;
          ctx.fillStyle = '#fff';
          ctx.fillRect(cx - w / 2, cy - 7, w, 14);
          ctx.strokeStyle = '#000';
          ctx.lineWidth = 1;
          ctx.strokeRect(Math.round(cx - w / 2) + 0.5, Math.round(cy - 7) + 0.5, Math.round(w), 14);
          ctx.fillStyle = energyLabelColors[i];
          ctx.fillText(energyLabels[i], cx, cy + 0.5);
        });
      }
      ctx.restore();
    },
    afterDraw(chart) {
      const { ctx, chartArea: a, scales: { x, y } } = chart;
      ctx.save();
      ctx.strokeStyle = '#000';
      ctx.lineWidth = 1.5;
      ctx.strokeRect(a.left, a.top, a.right - a.left, a.bottom - a.top);
      ctx.lineWidth = 1.2;
      ctx.beginPath();
      const isMajor = v => Math.abs(v / 2 - Math.round(v / 2)) < 1e-6;
      for (let k = Math.ceil(x.min / 0.5 - 1e-9); k * 0.5 <= x.max + 1e-9; k++) {
        const v = k * 0.5, p = x.getPixelForValue(v), L = isMajor(v) ? 6 : 3.5;
        ctx.moveTo(p, a.bottom); ctx.lineTo(p, a.bottom - L);
        ctx.moveTo(p, a.top); ctx.lineTo(p, a.top + L);
      }
      for (let k = Math.ceil(y.min / yMinorStep - 1e-9); k * yMinorStep <= y.max + 1e-9; k++) {
        const v = k * yMinorStep, p = y.getPixelForValue(v), L = isMajor(v) ? 6 : 3.5;
        ctx.moveTo(a.left, p); ctx.lineTo(a.left + L, p);
        ctx.moveTo(a.right, p); ctx.lineTo(a.right - L, p);
      }
      ctx.stroke();
      ctx.restore();
    }
  };
}

function panelOptions(xMax, yMin, yMax, yTicks, yWidth, padRight, yPad) {
  return {
    responsive: false,
    animation: false,
    devicePixelRatio: 1,
    layout: { padding: { top: 36, right: padRight, left: 0, bottom: 0 } },
    plugins: { legend: { display: false }, tooltip: { enabled: false } },
    scales: {
      x: {
        type: 'linear', min: -2, max: xMax,
        afterFit: s => { s.height = 60; },
        afterBuildTicks: s => { s.ticks = xTickValues.map(v => ({ value: v })); },
        grid: { display: false, drawTicks: false },
        border: { display: false },
        ticks: { font: tickFont, color: '#000', padding: 11, maxRotation: 0, autoSkip: false, callback: v => String(v) },
        title: { display: true, text: 'Delay (ps)', font: tickFont, color: '#000', padding: { top: 0, bottom: 3 } }
      },
      y: {
        type: 'linear', min: yMin, max: yMax,
        afterFit: s => { s.width = yWidth; },
        afterBuildTicks: s => { s.ticks = yTicks.map(v => ({ value: v })); },
        grid: { display: false, drawTicks: false },
        border: { display: false },
        ticks: { font: tickFont, color: '#000', padding: yPad, autoSkip: false, callback: v => String(v) }
      }
    }
  };
}

new Chart(document.getElementById('cA'), {
  type: 'line',
  data: { datasets: toDatasets(aCurves) },
  options: panelOptions(10.46, -1.5, 12, aYTickValues, 62, 10, 7),
  plugins: [framePlugin('a)', 0.4, { spots: [[2.0, 10.83], [0.63, 6.2], [-0.09, 2.81], [9.77, -0.09]] })]
});

new Chart(document.getElementById('cB'), {
  type: 'line',
  data: { datasets: toDatasets(bCurves) },
  options: panelOptions(10.86, -2, 18, bYTickValues, 43, 7, 5),
  plugins: [framePlugin('b)', 0.5, null)]
});
</script>
</body>
</html>
